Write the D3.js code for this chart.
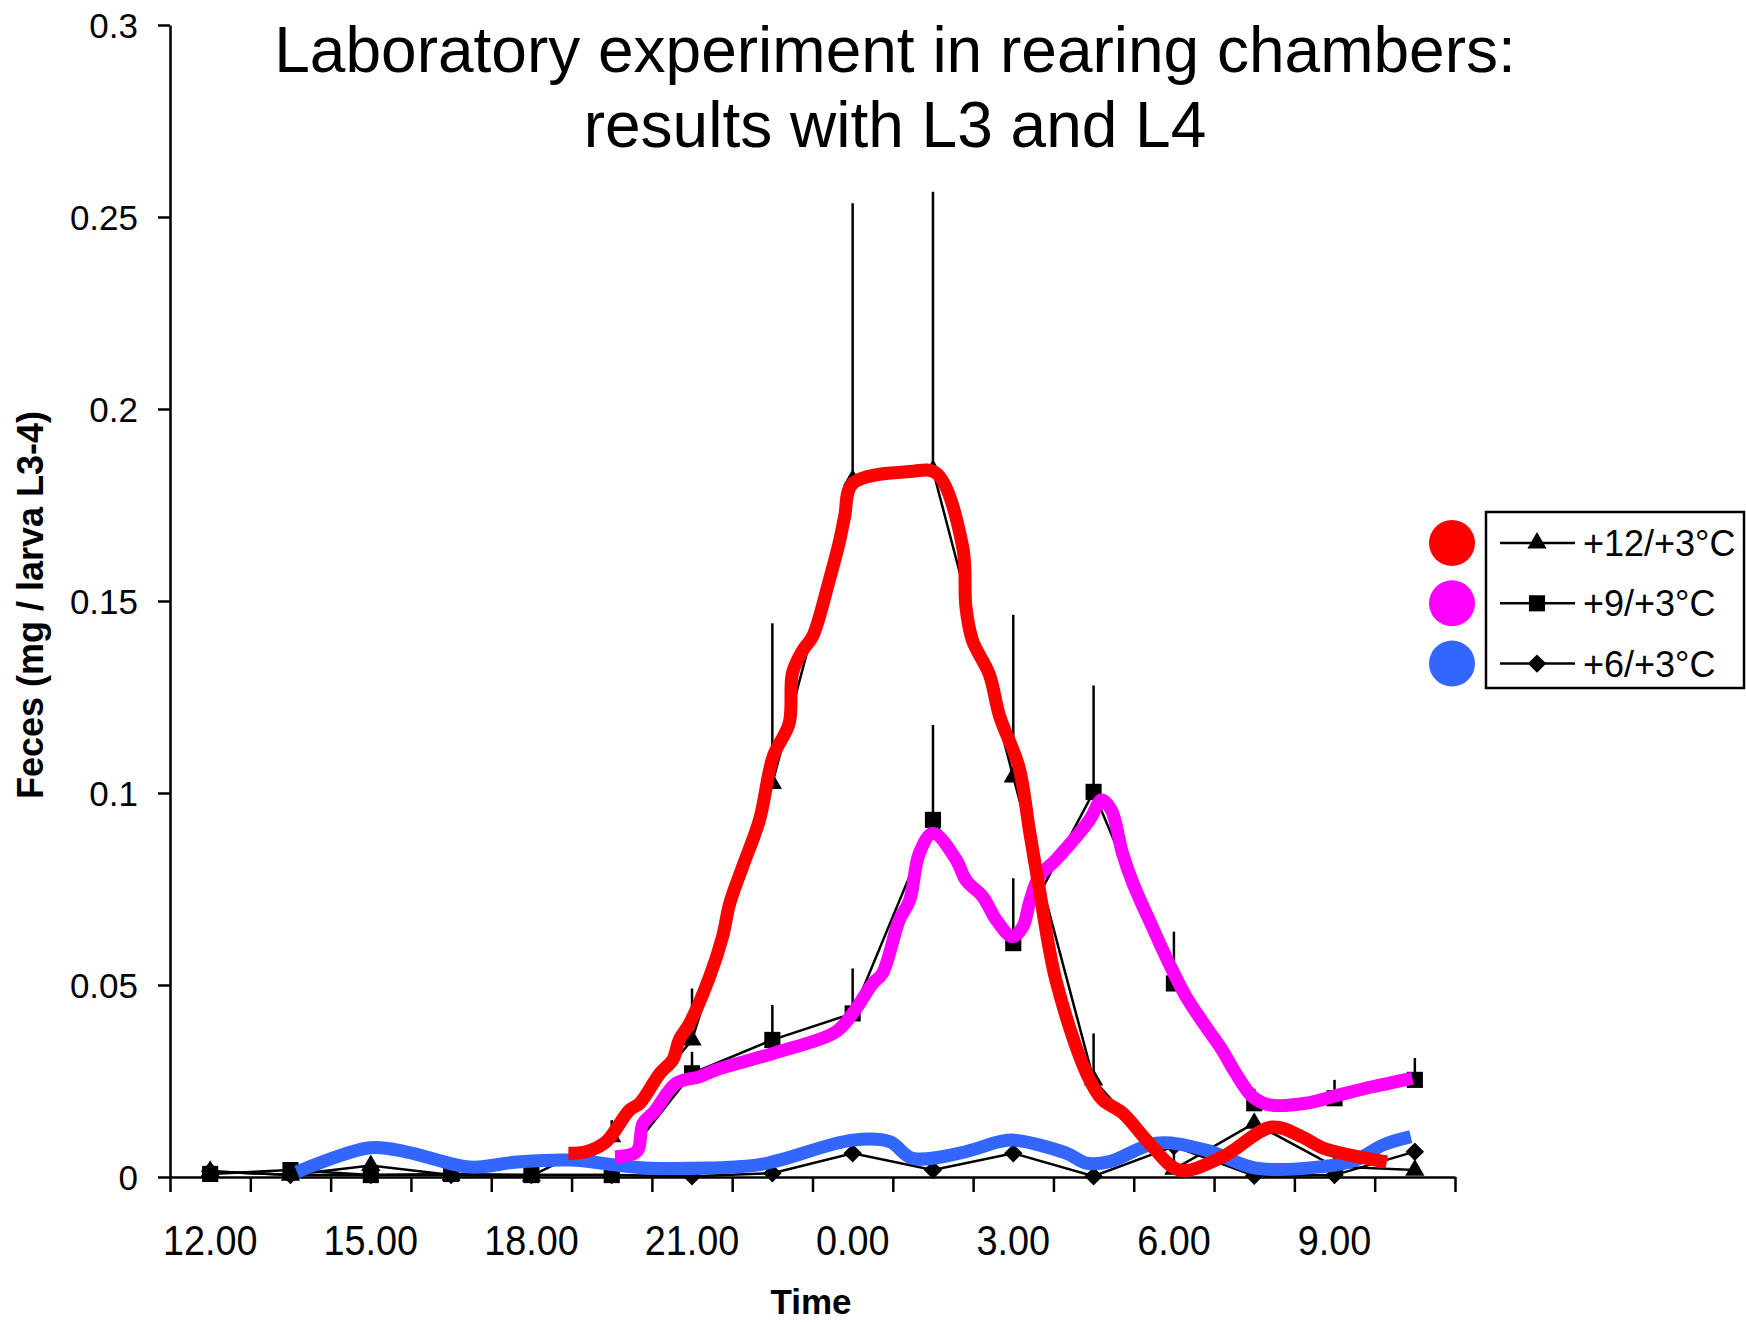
<!DOCTYPE html>
<html>
<head>
<meta charset="utf-8">
<script src="https://cdn.jsdelivr.net/npm/d3@7"></script>
<style>
  body { margin: 0; background: #fff; }
  svg { display: block; font-family: "Liberation Sans", Arial, sans-serif; }
</style>
</head>
<body>
<div class="graph"></div>
<script>
// categories: one every 1.5 h, labels on every second one
const times = ['12.00', '13.30', '15.00', '16.30', '18.00', '19.30', '21.00', '22.30',
  '0.00', '1.30', '3.00', '4.30', '6.00', '7.30', '9.00', '10.30'];

// black data series (mean + SE)
const t12 = [0.0015, 0.0005, 0.003, 0.0005, 0.0003, 0.0105, 0.0357, 0.1025, 0.1815, 0.184, 0.1042, 0.0253, 0.002, 0.014, 0.0027, 0.0018];
const t12Err = [0, 0, 0, 0, 0, 0.0043, 0.0134, 0.0417, 0.0721, 0.0726, 0.0422, 0.0121, 0.0076, 0, 0, 0];
const t9 = [0.0008, 0.0018, 0.0005, 0.0008, 0.0005, 0.0005, 0.027, 0.0357, 0.0426, 0.093, 0.0609, 0.1003, 0.0504, 0.0192, 0.0205, 0.0253];
const t9Err = [0, 0, 0, 0, 0, 0, 0.0056, 0.0091, 0.0117, 0.0247, 0.0169, 0.0277, 0.0135, 0.0038, 0.0048, 0.0057];
const t6 = [0.0015, 0.0005, 0.0005, 0.0005, 0.0005, 0.0005, 0.0002, 0.001, 0.0062, 0.0018, 0.0062, 0.0002, 0.008, 0.0003, 0.0005, 0.0066];

// hand drawn highlight strokes: [category position, value]
const redTrace = [[4.46, 0.0062], [4.68, 0.0066], [4.93, 0.0092], [5.22, 0.0174], [5.35, 0.0192], [5.6, 0.027],
  [5.76, 0.0305], [5.84, 0.0357], [5.97, 0.04], [6.22, 0.0522], [6.38, 0.0626], [6.47, 0.0713], [6.63, 0.0808],
  [6.84, 0.093], [7.01, 0.1095], [7.21, 0.1182], [7.25, 0.1312], [7.38, 0.1372], [7.5, 0.1407], [7.71, 0.1555],
  [7.84, 0.1659], [7.9, 0.172], [8.0, 0.1806], [8.71, 0.1837], [9.04, 0.1833], [9.37, 0.1641], [9.41, 0.1485],
  [9.49, 0.1398], [9.7, 0.131], [9.83, 0.12], [10.07, 0.1068], [10.2, 0.0904], [10.32, 0.0755], [10.53, 0.0513],
  [10.91, 0.0271], [11.11, 0.0201], [11.36, 0.0167], [11.69, 0.0089], [12.07, 0.0018], [12.6, 0.0052],
  [13.22, 0.013], [13.6, 0.0104], [13.85, 0.0076], [14.65, 0.0039]];
const magentaTrace = [[5.04, 0.0053], [5.31, 0.0066], [5.39, 0.014], [5.53, 0.017], [5.8, 0.0244], [6.09, 0.0261],
  [6.3, 0.0279], [7.01, 0.0322], [7.79, 0.0378], [8.0, 0.0426], [8.25, 0.0504], [8.37, 0.053], [8.58, 0.0669],
  [8.71, 0.0721], [8.83, 0.0843], [9.0, 0.0895], [9.29, 0.0826], [9.41, 0.0773], [9.62, 0.073], [9.79, 0.0669],
  [9.99, 0.0626], [10.12, 0.0652], [10.2, 0.0713], [10.32, 0.0782], [10.53, 0.0826], [10.95, 0.093], [11.1, 0.0982],
  [11.22, 0.0956], [11.36, 0.0843], [11.49, 0.0765], [11.73, 0.0652], [11.94, 0.0556], [12.15, 0.047], [12.4, 0.0391],
  [12.6, 0.0331], [12.77, 0.027], [12.98, 0.0209], [13.19, 0.0188], [13.64, 0.0192], [14.06, 0.0214], [14.47, 0.0235],
  [14.97, 0.0257]];
const blueTrace = [[1.08, 0.0013], [1.99, 0.0076], [2.45, 0.0065], [3.23, 0.0026], [3.82, 0.0039], [4.48, 0.0044],
  [5.47, 0.0023], [6.8, 0.0031], [7.09, 0.0044], [8.0, 0.0096], [8.46, 0.0092], [8.74, 0.0049], [9.33, 0.0062],
  [9.83, 0.0092], [10.01, 0.0096], [10.66, 0.0062], [10.91, 0.0036], [11.2, 0.004], [11.78, 0.0088], [12.4, 0.007],
  [13.02, 0.0023], [13.85, 0.0027], [14.26, 0.0044], [14.6, 0.0083], [14.95, 0.0105]];

const seriesNames = ['+12/+3°C', '+9/+3°C', '+6/+3°C'];
const highlightColors = ['#ff0000', '#ff00ff', '#3366ff'];
const yTicks = [0, 0.05, 0.1, 0.15, 0.2, 0.25, 0.3];

const w = 1746;
const h = 1322;
const plot = { left: 170, right: 1455, top: 25, bottom: 1177 };
const font = '"Liberation Sans", Arial, sans-serif';

const xScale = d3.scaleLinear()
  .domain([-0.5, times.length - 0.5])
  .range([plot.left, plot.right]);
const yScale = d3.scaleLinear()
  .domain([0, 0.3])
  .range([plot.bottom, plot.top]);

const svg = d3.select('.graph')
  .append('svg')
  .attr('width', w)
  .attr('height', h);

// axes
const yAxis = svg.append('g')
  .attr('transform', `translate(${plot.left}, 0)`)
  .call(d3.axisLeft(yScale)
    .tickValues(yTicks)
    .tickSize(12)
    .tickSizeOuter(0)
    .tickFormat((d) => String(+d.toFixed(2))));
yAxis.attr('font-family', font).attr('font-size', 35);
yAxis.selectAll('text').attr('x', -32).attr('dy', '0.35em').attr('fill', '#000');

svg.append('g')
  .attr('transform', `translate(0, ${plot.bottom})`)
  .call(d3.axisBottom(xScale)
    .tickValues(d3.range(-0.5, times.length, 1))
    .tickSize(15)
    .tickSizeOuter(0)
    .tickFormat(''));

svg.selectAll('.domain, .tick line').attr('stroke', '#000').attr('stroke-width', 2.5);

svg.append('g')
  .selectAll('text')
  .data(times.map((t, i) => ({ t, i })).filter((d) => d.i % 2 === 0))
  .join('text')
  .attr('transform', (d) => `translate(${xScale(d.i)}, 1255) scale(0.9, 1)`)
  .attr('text-anchor', 'middle')
  .attr('font-size', 42)
  .text((d) => d.t);

// titles
svg.append('text')
  .attr('x', 895).attr('y', 72)
  .attr('text-anchor', 'middle').attr('font-size', 64)
  .text('Laboratory experiment in rearing chambers:');
svg.append('text')
  .attr('x', 895).attr('y', 147)
  .attr('text-anchor', 'middle').attr('font-size', 64)
  .text('results with L3 and L4');
svg.append('text')
  .attr('x', 811).attr('y', 1314)
  .attr('text-anchor', 'middle').attr('font-size', 35).attr('font-weight', 'bold')
  .text('Time');
svg.append('text')
  .attr('transform', 'translate(43, 605) rotate(-90)')
  .attr('text-anchor', 'middle').attr('font-size', 36).attr('font-weight', 'bold')
  .text('Feces (mg / larva L3-4)');

// black series with error bars and markers
const symbols = [
  d3.symbol().type(d3.symbolTriangle).size(160),
  d3.symbol().type(d3.symbolSquare).size(260),
  d3.symbol().type(d3.symbolSquare).size(170)
];
const symbolRotate = [0, 0, 45];
const series = [
  { values: t12, err: t12Err },
  { values: t9, err: t9Err },
  { values: t6, err: times.map(() => 0) }
];
const line = d3.line()
  .x((d, i) => xScale(i))
  .y((d) => yScale(d));

series.forEach((s, k) => {
  const g = svg.append('g');
  g.selectAll('line')
    .data(s.values.map((v, i) => ({ v, i, e: s.err[i] })).filter((d) => d.e > 0))
    .join('line')
    .attr('x1', (d) => xScale(d.i)).attr('x2', (d) => xScale(d.i))
    .attr('y1', (d) => yScale(d.v)).attr('y2', (d) => yScale(d.v + d.e))
    .attr('stroke', '#000').attr('stroke-width', 2.5);
  g.append('path')
    .attr('d', line(s.values))
    .attr('fill', 'none').attr('stroke', '#000').attr('stroke-width', 2.5);
  g.selectAll('path.m')
    .data(s.values)
    .join('path')
    .attr('class', 'm')
    .attr('d', symbols[k])
    .attr('transform', (d, i) => `translate(${xScale(i)}, ${yScale(d)}) rotate(${symbolRotate[k]})`)
    .attr('fill', '#000');
});

// coloured highlight strokes on top
const traceLine = d3.line()
  .x((d) => xScale(d[0]))
  .y((d) => yScale(d[1]))
  .curve(d3.curveCatmullRom.alpha(0.5));
[blueTrace, magentaTrace, redTrace].forEach((tr, k) => {
  svg.append('path')
    .attr('d', traceLine(tr))
    .attr('fill', 'none')
    .attr('stroke', highlightColors[2 - k])
    .attr('stroke-width', 13)
    .attr('stroke-linejoin', 'round');
});

// legend
const legend = svg.append('g');
legend.append('rect')
  .attr('x', 1486).attr('y', 512).attr('width', 258).attr('height', 176)
  .attr('fill', '#fff').attr('stroke', '#000').attr('stroke-width', 2.5);
seriesNames.forEach((name, k) => {
  const cy = 543 + k * 60.3;
  legend.append('circle').attr('cx', 1452).attr('cy', cy).attr('r', 23).attr('fill', highlightColors[k]);
  legend.append('line').attr('x1', 1500).attr('x2', 1575).attr('y1', cy).attr('y2', cy)
    .attr('stroke', '#000').attr('stroke-width', 2.5);
  legend.append('path').attr('d', symbols[k])
    .attr('transform', `translate(1537, ${cy}) rotate(${symbolRotate[k]})`);
  legend.append('text').attr('x', 1583).attr('y', cy + 13).attr('font-size', 36).text(name);
});
</script>
</body>
</html>
